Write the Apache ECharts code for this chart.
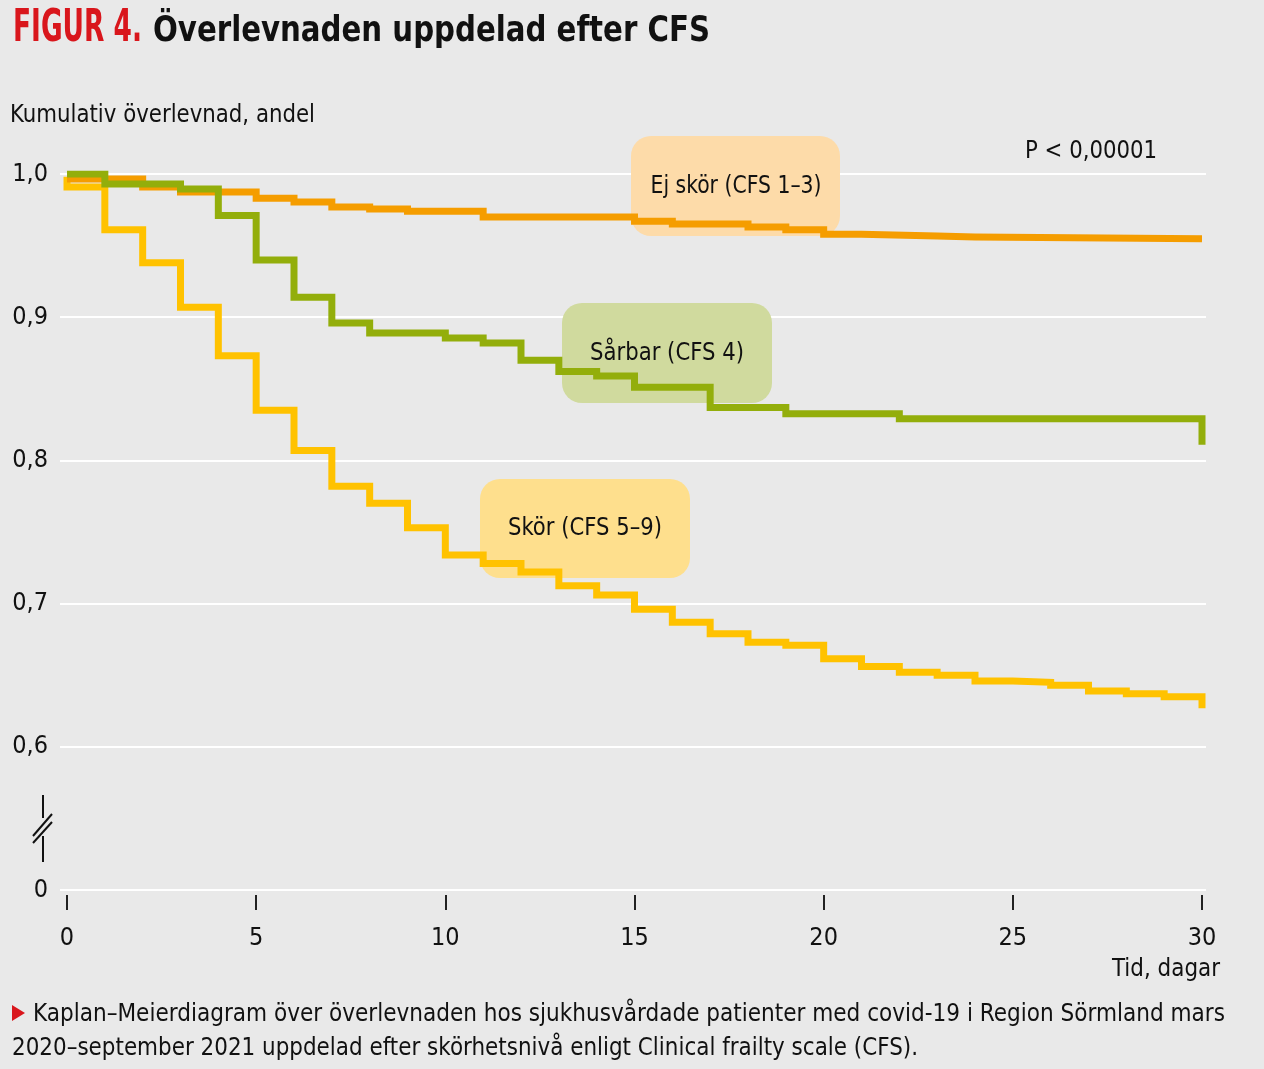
<!DOCTYPE html>
<html>
<head>
<meta charset="utf-8">
<script src="https://cdn.jsdelivr.net/npm/echarts@6/dist/echarts.min.js"></script>
<style>
  html, body { margin: 0; padding: 0; background: #E9E9E9; }
  #chart { width: 1264px; height: 1069px; }
</style>
</head>
<body>
<div id="chart"></div>
<script>
// ---- Data ----
const xTicks = [0, 5, 10, 15, 20, 25, 30];
const yTickLabels = ['0', '0,6', '0,7', '0,8', '0,9', '1,0'];

const ejSkorT = [0, 2, 3, 5, 6, 7, 8, 9, 11, 15, 16, 18, 19, 20, 21, 23, 24, 30];
const ejSkorS = [0.9965, 0.991, 0.9875, 0.983, 0.9805, 0.977, 0.9755, 0.974, 0.970, 0.967, 0.965, 0.963, 0.961, 0.958, 0.9567, 0.956, 0.9547, 0.9547];

const sarbarT = [0, 1, 3, 4, 5, 6, 7, 8, 10, 11, 12, 13, 14, 15, 17, 19, 22, 30, 30];
const sarbarS = [1.0, 0.993, 0.9895, 0.971, 0.940, 0.914, 0.896, 0.889, 0.8855, 0.882, 0.870, 0.862, 0.859, 0.851, 0.837, 0.8325, 0.829, 0.829, 0.811];

const skorT = [0, 0, 1, 2, 3, 4, 5, 6, 7, 8, 9, 10, 11, 12, 13, 14, 15, 16, 17, 18, 19, 20, 21, 22, 23, 24, 25, 26, 27, 28, 29, 30, 30];
const skorS = [0.998, 0.991, 0.961, 0.938, 0.907, 0.873, 0.835, 0.807, 0.782, 0.770, 0.753, 0.734, 0.728, 0.722, 0.7125, 0.706, 0.696, 0.687, 0.679, 0.673, 0.671, 0.6615, 0.656, 0.652, 0.650, 0.646, 0.645, 0.643, 0.639, 0.637, 0.635, 0.635, 0.627];

const seriesNames = ['Skör (CFS 5–9)', 'Ej skör (CFS 1–3)', 'Sårbar (CFS 4)'];

// ---- Styling ----
const FONT = '"DejaVu Sans Condensed", "Roboto", sans-serif';
const zip = (t, s) => t.map((v, i) => [v, s[i]]);
const mctx = document.createElement('canvas').getContext('2d');
function fitScale(text, font, target) {
  mctx.font = font;
  const w = mctx.measureText(text).width;
  return w > 0 ? target / w : 1;
}

const chart = echarts.init(document.getElementById('chart'), null, { renderer: 'canvas' });

function lineSeries(name, data, color) {
  return {
    name, type: 'line', step: 'end', xAxisIndex: 1, yAxisIndex: 1,
    symbol: 'none', data, z: 3, silent: true,
    lineStyle: { color, width: 7, cap: 'butt', join: 'miter' }
  };
}

// text fitted to a target width (horizontal scale only)
function textEl(x, y, text, fontSpec, targetW, opts) {
  const font = fontSpec + ' ' + FONT;
  const sx = targetW ? fitScale(text, font, targetW) : 1;
  return {
    type: 'text', x, y, z: 10, scaleX: sx, scaleY: 1,
    style: Object.assign({ text, font, fill: '#111', textAlign: 'left', textVerticalAlign: 'middle' }, opts || {})
  };
}

function box(x, y, w, h, fill) {
  return { type: 'rect', shape: { x, y, width: w, height: h, r: 20 }, style: { fill }, z: 1 };
}

const option = {
  backgroundColor: '#E9E9E9',
  animation: false,
  grid: [
    { left: 60, right: 58, top: 174, bottom: 179 },
    { left: 67, right: 62, top: 174, bottom: 179 }
  ],
  xAxis: [
    { gridIndex: 0, type: 'value', min: 0, max: 1, show: false },
    {
      gridIndex: 1, type: 'value', min: 0, max: 30, interval: 5, offset: 5,
      axisLine: { show: false },
      axisTick: { show: true, length: 15, lineStyle: { color: '#222', width: 2 } },
      splitLine: { show: false },
      axisLabel: { color: '#111', fontSize: 25, fontFamily: FONT, margin: 31,
        formatter: v => String(xTicks[xTicks.indexOf(v)]) }
    }
  ],
  yAxis: [
    {
      gridIndex: 0, type: 'value', min: 0.5, max: 1.0, interval: 0.1,
      axisLine: { show: false }, axisTick: { show: false },
      splitLine: { show: true, lineStyle: { color: '#FFFFFF', width: 2 } },
      axisLabel: { color: '#111', fontSize: 25, fontFamily: FONT, margin: 12,
        formatter: (v, i) => yTickLabels[i] }
    },
    { gridIndex: 1, type: 'value', min: 0.5, max: 1.0, show: false }
  ],
  series: [
    lineSeries(seriesNames[0], zip(skorT, skorS), '#FFC200'),
    lineSeries(seriesNames[1], zip(ejSkorT, ejSkorS), '#F59D00'),
    lineSeries(seriesNames[2], zip(sarbarT, sarbarS), '#93AE0B')
  ],
  graphic: [
    // annotation boxes (behind lines)
    box(631, 136, 209, 100, '#FDDBA9'),
    box(562, 303, 210, 100, '#D0DA9E'),
    box(480, 479, 210, 99, '#FEDF8D'),
    textEl(736, 186, seriesNames[1], '25px', 171, { textAlign: 'center' }),
    textEl(667, 353, seriesNames[2], '25px', 154, { textAlign: 'center' }),
    textEl(585, 528, seriesNames[0], '25px', 154, { textAlign: 'center' }),
    // title
    textEl(13, 29, 'FIGUR 4.', 'bold 45px', 129, { fill: '#D9161C' }),
    textEl(153, 32, 'Överlevnaden uppdelad efter CFS', 'bold 35px', 557),
    // axis titles / notes
    textEl(10, 116, 'Kumulativ överlevnad, andel', '24px', 305),
    textEl(1157, 151, 'P < 0,00001', '25px', 132, { textAlign: 'right' }),
    textEl(1220, 969, 'Tid, dagar', '25px', 108, { textAlign: 'right' }),
    // axis break marker
    { type: 'line', shape: { x1: 43, y1: 795, x2: 43, y2: 818 }, style: { stroke: '#111', lineWidth: 2 }, z: 10 },
    { type: 'line', shape: { x1: 43, y1: 836, x2: 43, y2: 862 }, style: { stroke: '#111', lineWidth: 2 }, z: 10 },
    { type: 'line', shape: { x1: 33, y1: 836, x2: 52, y2: 814 }, style: { stroke: '#111', lineWidth: 2 }, z: 10 },
    { type: 'line', shape: { x1: 33, y1: 843, x2: 52, y2: 822 }, style: { stroke: '#111', lineWidth: 2 }, z: 10 },
    // caption
    { type: 'polygon', shape: { points: [[12, 1005], [25, 1013], [12, 1021]] }, style: { fill: '#D9161C' }, z: 10 },
    textEl(33, 1014, 'Kaplan–Meierdiagram över överlevnaden hos sjukhusvårdade patienter med covid-19 i Region Sörmland mars', '25px', 1192),
    textEl(12, 1048, '2020–september 2021 uppdelad efter skörhetsnivå enligt Clinical frailty scale (CFS).', '25px', 906)
  ]
};

chart.setOption(option);
</script>
</body>
</html>
